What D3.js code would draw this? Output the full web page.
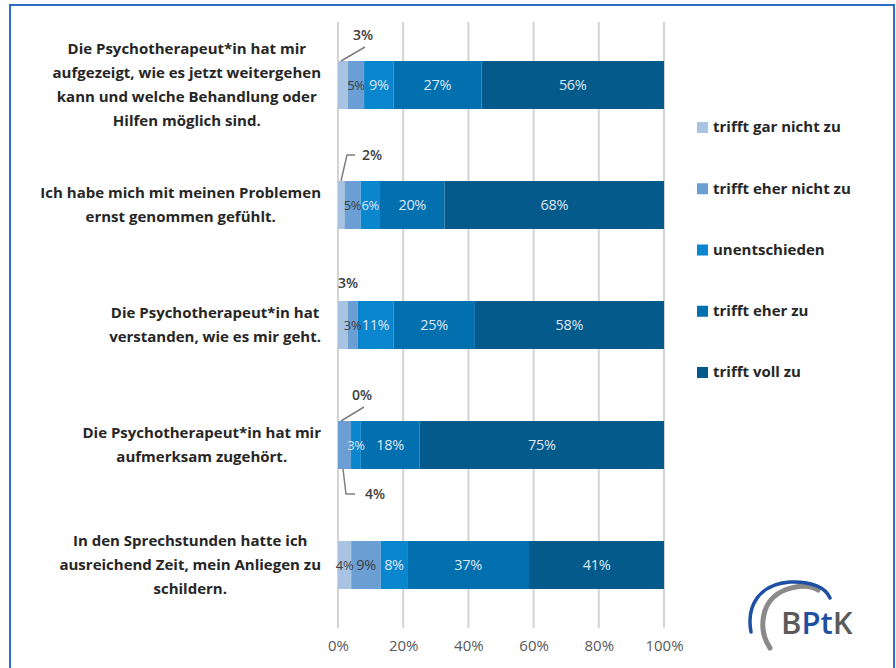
<!DOCTYPE html>
<html>
<head>
<meta charset="utf-8">
<script src="https://cdn.jsdelivr.net/npm/d3@7"></script>
<style>
  body { margin: 0; background: #fff; }
  text { font-family: "Open Sans", sans-serif; }
</style>
</head>
<body>
<script>
// questions (each one a list of wrapped lines)
var questions = [
  ['Die Psychotherapeut*in hat mir', 'aufgezeigt, wie es jetzt weitergehen', 'kann und welche Behandlung oder', 'Hilfen möglich sind.'],
  ['Ich habe mich mit meinen Problemen', 'ernst genommen gefühlt.'],
  ['Die Psychotherapeut*in hat', 'verstanden, wie es mir geht.'],
  ['Die Psychotherapeut*in hat mir', 'aufmerksam zugehört.'],
  ['In den Sprechstunden hatte ich', 'ausreichend Zeit, mein Anliegen zu', 'schildern.']
];
var seriesNames = ['trifft gar nicht zu', 'trifft eher nicht zu', 'unentschieden', 'trifft eher zu', 'trifft voll zu'];
var garNicht   = [3, 2, 3, 0, 4];
var eherNicht  = [5, 5, 3, 4, 9];
var unentsch   = [9, 6, 11, 3, 8];
var eherZu     = [27, 20, 25, 18, 37];
var vollZu     = [56, 68, 58, 75, 41];
var tickValues = [0, 0.2, 0.4, 0.6, 0.8, 1];

var colors = ['#a9c4e3', '#6b9fd3', '#0a86cf', '#0270af', '#035a8b'];
var labelColors = ['#404040', '#404040', '#dde7f2', '#dde7f2', '#dde7f2'];

var W = 896, H = 668;
var svg = d3.select('body').append('svg').attr('width', W).attr('height', H);

// frame
svg.append('rect').attr('x', 10).attr('y', 5).attr('width', 884).attr('height', 700)
  .attr('fill', 'none').attr('stroke', '#2a6fc1').attr('stroke-width', 2);

var rows = questions.map(function(q, i) {
  return { id: i, lines: q, values: [garNicht[i], eherNicht[i], unentsch[i], eherZu[i], vollZu[i]] };
});

var x = d3.scaleLinear().domain([0, 1]).range([338, 664]);
var y = d3.scaleBand().domain(d3.range(questions.length)).range([25, 625])
  .paddingInner(0.6).paddingOuter(0.3);

// gridlines
svg.append('g').selectAll('line').data(tickValues).enter().append('line')
  .attr('x1', function(d){ return x(d); }).attr('x2', function(d){ return x(d); })
  .attr('y1', 22).attr('y2', 628)
  .attr('stroke', '#d4d4d4').attr('stroke-width', 2);

// axis
var xAxis = d3.axisBottom(x).tickValues(tickValues).tickSize(0).tickPadding(0)
  .tickFormat(d3.format('.0%'));
var ax = svg.append('g').attr('transform', 'translate(0,638)').call(xAxis);
ax.select('.domain').remove();
ax.selectAll('text').attr('fill', '#595959').style('font-size', '15px').attr('dy', '0.85em')
  .style('font-family', '"Open Sans", sans-serif');

// 100% stacked bars
var keys = [0, 1, 2, 3, 4];
var stack = d3.stack().keys(keys).value(function(d, k){ return d.values[k]; })
  .offset(d3.stackOffsetExpand);
var layers = stack(rows);

var gl = svg.append('g').selectAll('g').data(layers).enter().append('g')
  .attr('fill', function(d){ return colors[d.key]; });
gl.selectAll('rect').data(function(d){ return d; }).enter().append('rect')
  .attr('x', function(d){ return x(d[0]); })
  .attr('y', function(d){ return y(d.data.id); })
  .attr('width', function(d){ return x(d[1]) - x(d[0]); })
  .attr('height', y.bandwidth());

// value labels inside the bars (small first segments are labelled outside)
var outside = [
  { row: 0, key: 0, dx: 25, dy: -26, leader: 'diag' },
  { row: 1, key: 0, dx: 34, dy: -26, leader: 'bracketUp' },
  { row: 2, key: 0, dx: 10, dy: -18, leader: 'none' },
  { row: 3, key: 0, dx: 24, dy: -26, leader: 'diag' },
  { row: 3, key: 1, dx: 37, dy: 25, leader: 'bracketDown' }
];
var isOutside = function(row, key) {
  return outside.some(function(o){ return o.row === row && o.key === key; });
};

layers.forEach(function(layer) {
  svg.append('g').selectAll('text').data(layer.filter(function(d){ return !isOutside(d.data.id, layer.key); }))
    .enter().append('text')
    .attr('x', function(d){ return (x(d[0]) + x(d[1])) / 2; })
    .attr('y', function(d){ return y(d.data.id) + y.bandwidth() / 2; })
    .attr('dy', '0.35em')
    .attr('text-anchor', 'middle')
    .attr('fill', labelColors[layer.key])
    .style('font-size', function(d){ return (x(d[1]) - x(d[0])) < 20 ? '13px' : '14.5px'; })
    .style('letter-spacing', '-0.3px')
    .text(function(d){ return d.data.values[layer.key] + '%'; });
});

var ann = svg.append('g');
outside.forEach(function(o) {
  var seg = layers[o.key][o.row];
  var sx = x(seg[0]) + 3;
  var top = y(o.row), bot = y(o.row) + y.bandwidth();
  var lx = x(seg[0]) + o.dx, ly = (o.dy < 0 ? top : bot) + o.dy;
  ann.append('text').attr('x', lx).attr('y', ly).attr('dy', '0.35em')
    .attr('text-anchor', 'middle').attr('fill', '#404040')
    .style('font-size', '14px').style('font-weight', '600')
    .text(rows[o.row].values[o.key] + '%');
  var path = null;
  if (o.leader === 'diag') path = [[sx, top], [lx + 2, ly + 12]];
  if (o.leader === 'bracketUp') path = [[sx, top], [sx + 6, ly], [sx + 14, ly]];
  if (o.leader === 'bracketDown') path = [[sx + 2, bot], [sx + 5, ly], [sx + 14, ly]];
  if (path) ann.append('path').attr('d', d3.line()(path))
    .attr('fill', 'none').attr('stroke', '#7f7f7f').attr('stroke-width', 1.5);
});

// category labels: block right-aligned at the axis, lines centered inside the block
var catG = svg.append('g');
rows.forEach(function(r) {
  var g = catG.append('g');
  var lh = 24;
  var cy = y(r.id) + y.bandwidth() / 2;
  var t = g.selectAll('text').data(r.lines).enter().append('text')
    .attr('y', function(d, i){ return cy + (i - (r.lines.length - 1) / 2) * lh; })
    .attr('dy', '0.35em')
    .attr('text-anchor', 'middle')
    .attr('fill', '#262626')
    .style('font-size', '15px').style('font-weight', '700')
    .text(function(d){ return d; });
  var maxW = d3.max(t.nodes(), function(n){ return n.getComputedTextLength(); });
  t.attr('x', 321 - maxW / 2);
});

// legend
var legY = d3.scalePoint().domain(seriesNames).range([127, 372]);
var leg = svg.append('g').selectAll('g').data(seriesNames).enter().append('g')
  .attr('transform', function(d){ return 'translate(697,' + legY(d) + ')'; });
leg.append('rect').attr('x', 0).attr('y', -5).attr('width', 11).attr('height', 11)
  .attr('fill', function(d, i){ return colors[i]; });
leg.append('text').attr('x', 16).attr('dy', '0.35em').attr('fill', '#262626')
  .style('font-size', '15px').style('font-weight', '700')
  .text(function(d){ return d; });

// BPtK logo
var logo = svg.append('g');
logo.append('path').attr('d', 'M770,648 C758,630 760,600 785,590 C800,584 812,586 818,590')
  .attr('fill', 'none').attr('stroke', '#8a8a8a').attr('stroke-width', 5).attr('stroke-linecap', 'round');
logo.append('path').attr('d', 'M751,632 C746,605 760,584 790,582 C812,581 826,588 830,598')
  .attr('fill', 'none').attr('stroke', '#1d4fa3').attr('stroke-width', 3.5).attr('stroke-linecap', 'round');
var lt = logo.append('text').attr('x', 781).attr('y', 634).style('font-size', '31px')
  .style('font-family', '"Open Sans", sans-serif').style('font-weight', '600');
lt.append('tspan').attr('fill', '#5a5a5a').text('B');
lt.append('tspan').attr('fill', '#1d4fa3').text('Pt');
lt.append('tspan').attr('fill', '#5a5a5a').text('K');
</script>
</body>
</html>
